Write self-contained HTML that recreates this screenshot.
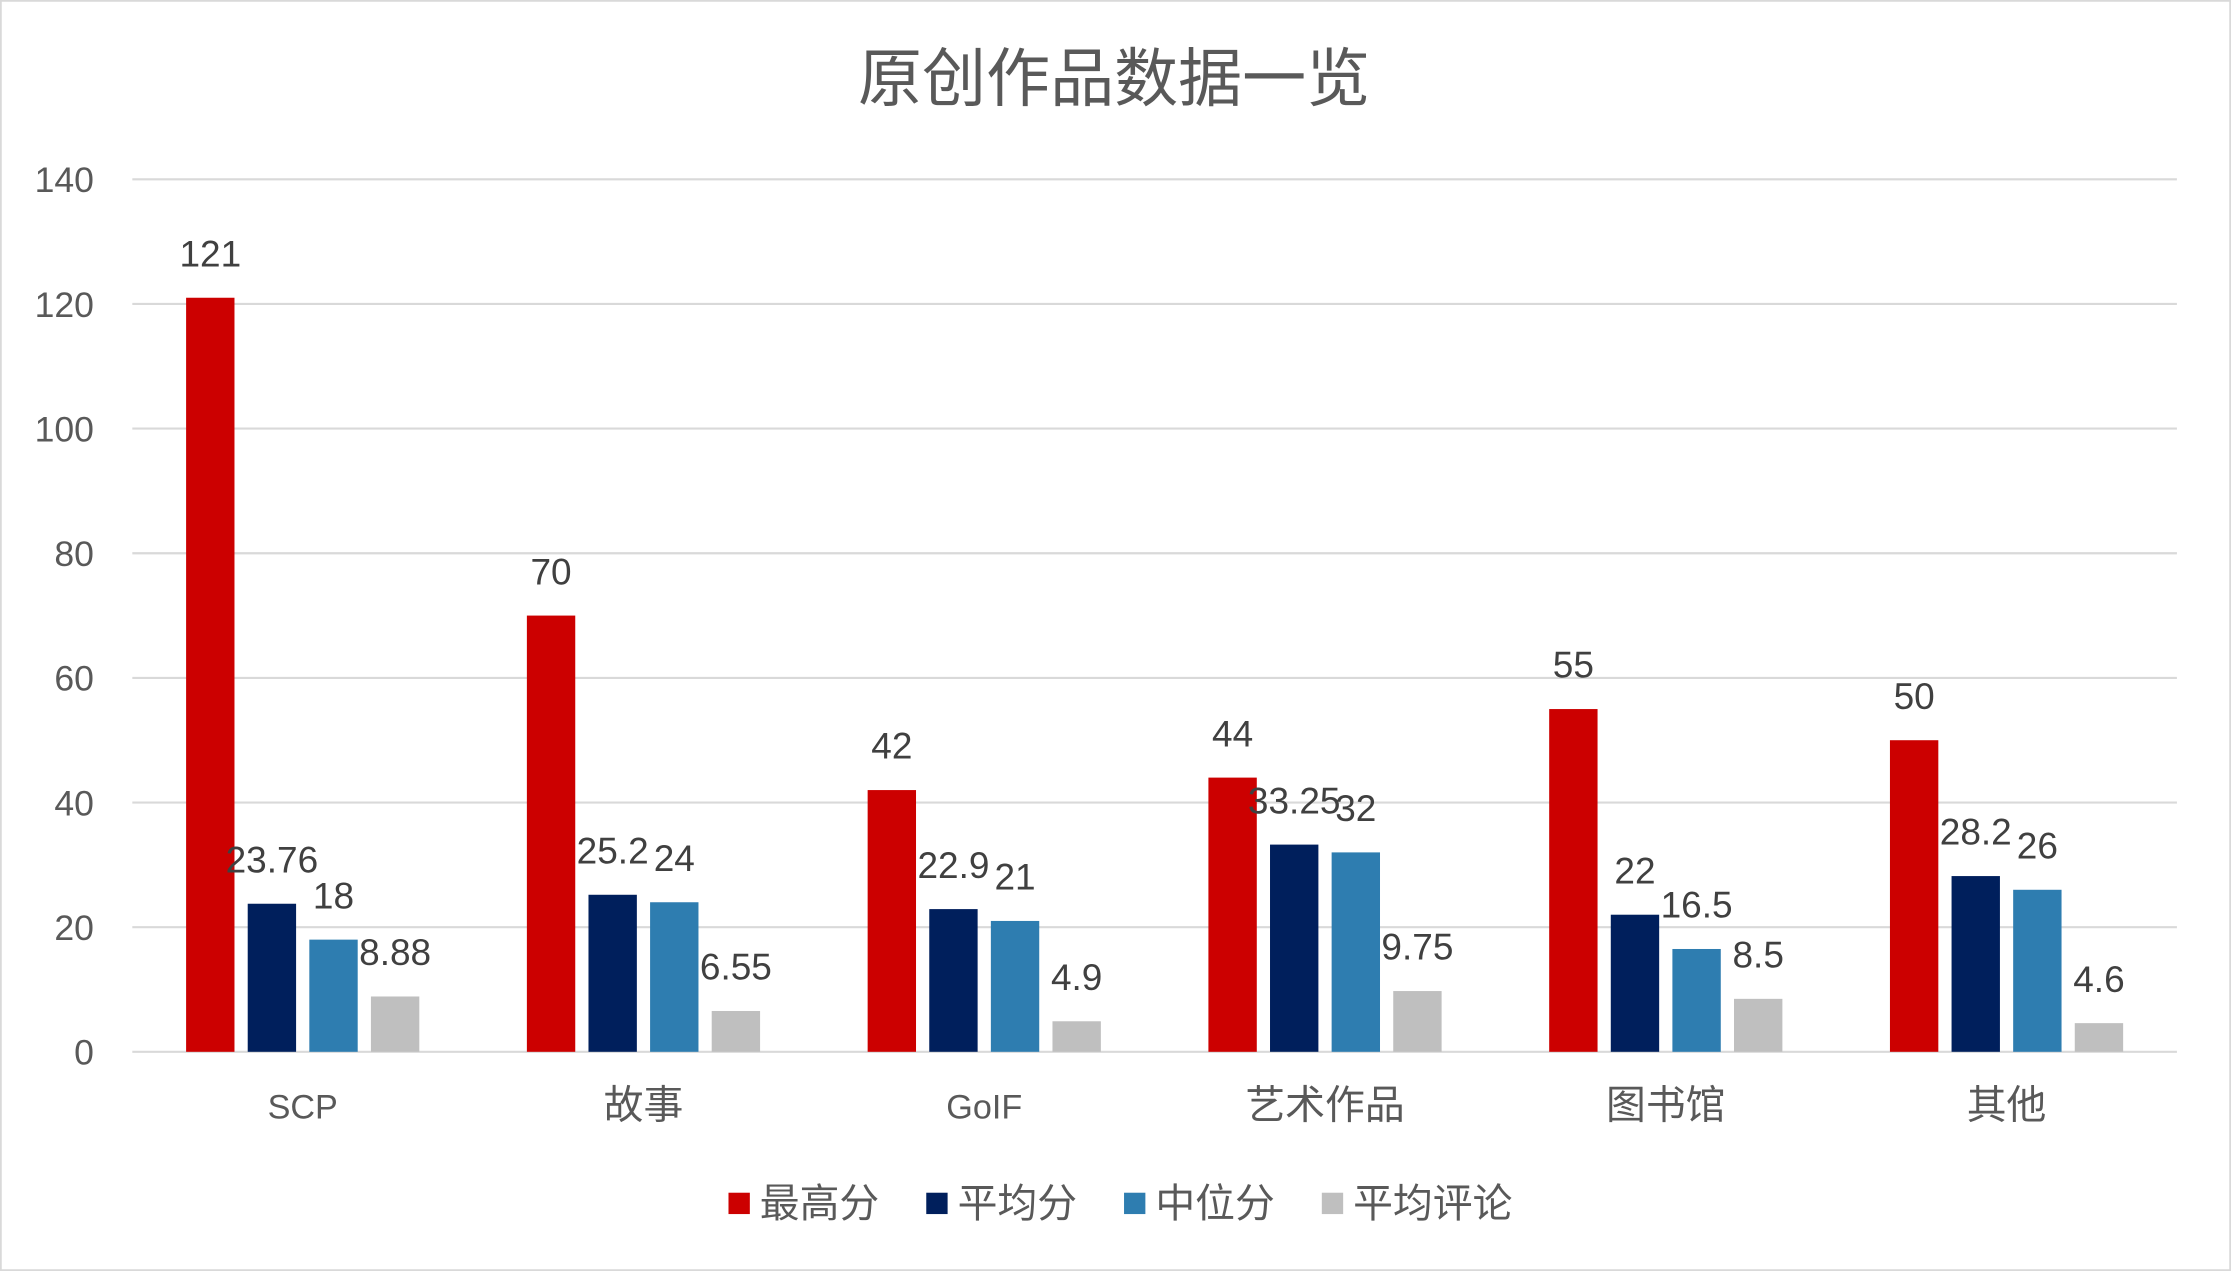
<!DOCTYPE html>
<html><head><meta charset="utf-8"><style>
html,body{margin:0;padding:0;background:#fff;}
svg{display:block;}
text{font-family:"Liberation Sans","Noto Sans CJK SC",sans-serif;fill:#595959;}
</style></head><body>
<svg id="chart" width="2231" height="1271" viewBox="0 0 1568 893" preserveAspectRatio="none" xmlns="http://www.w3.org/2000/svg">
<rect x="0.5" y="0.5" width="1567" height="892" fill="#fff" stroke="#d9d9d9" stroke-width="1.5"/>
<text x="783" y="71" font-size="45" text-anchor="middle">原创作品数据一览</text>
<g id="grid"></g>
<g id="yaxis"></g>
<g id="bars"></g>
<g id="xaxis"></g>
<g id="legend"></g>
</svg>
<script>
const categories = ["SCP","故事","GoIF","艺术作品","图书馆","其他"];
const seriesNames = ["最高分","平均分","中位分","平均评论"];
const maxScore = [121,70,42,44,55,50];
const avgScore = [23.76,25.2,22.9,33.25,22,28.2];
const medianScore = [18,24,21,32,16.5,26];
const avgComments = [8.88,6.55,4.9,9.75,8.5,4.6];
const yTicks = [0,20,40,60,80,100,120,140];
const seriesValues = [maxScore, avgScore, medianScore, avgComments];
const colors = ["#cc0000","#001f5c","#2e7db0","#bfbfbf"];

const NS = "http://www.w3.org/2000/svg";
const L = 93, R = 1530, Y0 = 739, YMAX = 126, VMAX = 140;
const yScale = v => Y0 - (v / VMAX) * (Y0 - YMAX);
const catW = (R - L) / categories.length;
const xCenter = i => L + catW * (i + 0.5);
const barW = 34, step = 43.3;
const barX = (i, s) => xCenter(i) - barW / 2 + (s - 1.5) * step;

function mk(tag, attrs, parent) {
  const e = document.createElementNS(NS, tag);
  for (const k in attrs) e.setAttribute(k, attrs[k]);
  parent.appendChild(e);
  return e;
}
const grid = document.getElementById('grid');
const yaxis = document.getElementById('yaxis');
yTicks.forEach(t => {
  const ln = mk('line', {x1: L, x2: R, y1: yScale(t), y2: yScale(t), stroke: '#d9d9d9', 'stroke-width': 1.5}, grid);
  
  
  const tx = mk('text', {x: 66, y: yScale(t) + 9, 'font-size': 25, 'text-anchor': 'end'}, yaxis);
  tx.textContent = t;
  
  
});
const bars = document.getElementById('bars');
seriesValues.forEach((vals, s) => {
  vals.forEach((v, i) => {
    const x = barX(i, s), y = yScale(v);
    const r = mk('rect', {x: x, y: y, width: barW, height: Y0 - y, fill: colors[s]}, bars);
    
    
    const t = mk('text', {x: x + barW / 2, y: y - 22, 'font-size': 26, 'text-anchor': 'middle'}, bars);
    t.style.fill = '#404040';
    t.textContent = v;
    
    
  });
});
const xaxis = document.getElementById('xaxis');
categories.forEach((c, i) => {
  const latin = /^[A-Za-z]+$/.test(c);
  const t = mk('text', {x: xCenter(i), y: 786, 'font-size': latin ? 24 : 28, 'text-anchor': 'middle'}, xaxis);
  t.textContent = c;
  
  
});
const legend = document.getElementById('legend');
const legX = [512, 651, 790, 929];
seriesNames.forEach((n, s) => {
  const g = mk('g', {}, legend);
  
  
  mk('rect', {x: legX[s], y: 838, width: 15, height: 15, fill: colors[s]}, g);
  const t = mk('text', {x: legX[s] + 22, y: 855, 'font-size': 28}, g);
  t.textContent = n;
});
</script>
</body></html>
